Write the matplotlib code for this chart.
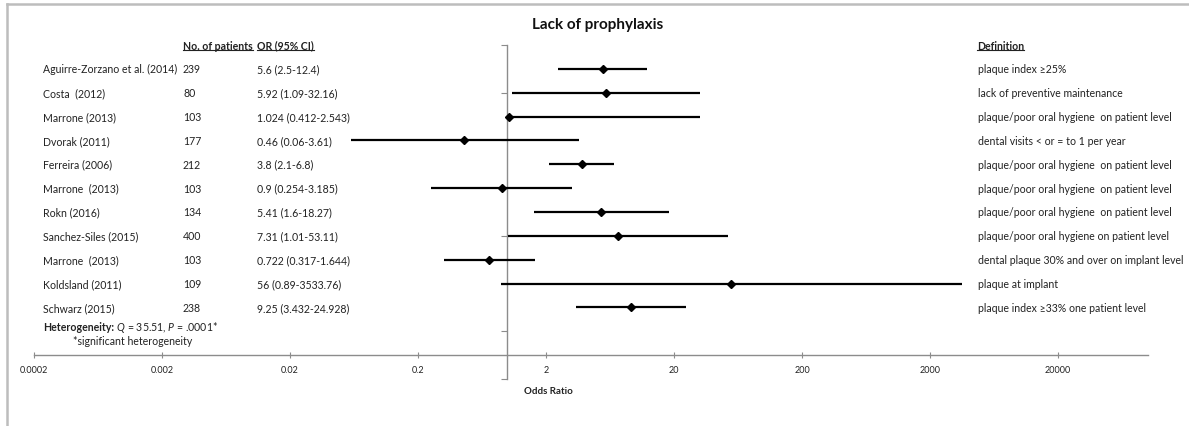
import numpy as np
import matplotlib
matplotlib.use("Agg")
import matplotlib.pyplot as plt
from matplotlib.lines import Line2D
from matplotlib.transforms import blended_transform_factory

plt.rcParams["font.family"] = ["Lato", "DejaVu Sans"]
plt.rcParams["mathtext.fontset"] = "custom"
plt.rcParams["mathtext.rm"] = "Lato"
plt.rcParams["mathtext.it"] = "Lato:italic"
plt.rcParams["mathtext.bf"] = "Lato:bold"

# data
studies = ["Aguirre-Zorzano et al. (2014)", "Costa  (2012)", "Marrone (2013)", "Dvorak (2011)",
           "Ferreira (2006)", "Marrone  (2013)", "Rokn (2016)", "Sanchez-Siles (2015)",
           "Marrone  (2013)", "Koldsland (2011)", "Schwarz (2015)"]
patients = [239, 80, 103, 177, 212, 103, 134, 400, 103, 109, 238]
odds = [5.6, 5.92, 1.024, 0.46, 3.8, 0.9, 5.41, 7.31, 0.722, 56, 9.25]
# interval ends as drawn in the picture (row 3 bar is drawn from 1.024 out to ~32)
ci_low = [2.5, 1.09, 1.024, 0.06, 2.1, 0.254, 1.6, 1.01, 0.317, 0.89, 3.432]
ci_high = [12.4, 32.16, 32.16, 3.61, 6.8, 3.185, 18.27, 53.11, 1.644, 3533.76, 24.928]
or_labels = ["5.6 (2.5-12.4)", "5.92 (1.09-32.16)", "1.024 (0.412-2.543)", "0.46 (0.06-3.61)",
             "3.8 (2.1-6.8)", "0.9 (0.254-3.185)", "5.41 (1.6-18.27)", "7.31 (1.01-53.11)",
             "0.722 (0.317-1.644)", "56 (0.89-3533.76)", "9.25 (3.432-24.928)"]
definitions = ["plaque index \u226525%", "lack of preventive maintenance",
               "plaque/poor oral hygiene  on patient level", "dental visits < or = to 1 per year",
               "plaque/poor oral hygiene  on patient level", "plaque/poor oral hygiene  on patient level",
               "plaque/poor oral hygiene  on patient level", "plaque/poor oral hygiene on patient level",
               "dental plaque 30% and over on implant level", "plaque at implant",
               "plaque index \u226533% one patient level"]
x_ticks = [0.0002, 0.002, 0.02, 0.2, 2, 20, 200, 2000, 20000]
x_tick_labels = ["0.0002", "0.002", "0.02", "0.2", "2", "20", "200", "2000", "20000"]

W, H = 1189, 427
fig = plt.figure(figsize=(W / 100, H / 100), dpi=100)
ax = fig.add_axes([34 / W, 1 - 380 / H, 1113.5 / W, 334 / H])

rows = np.arange(1, len(studies) + 1)
ax.hlines(rows, ci_low, ci_high, color="black", lw=1.6, zorder=3)
ax.plot(odds, rows, "D", color="black", ms=4.5, zorder=4)

ax.set_xscale("log")
ax.set_xlim(0.0002, 100000)
ax.set_ylim(14, 0)
ax.set_xticks(x_ticks)
ax.set_xticklabels(x_tick_labels)
ax.xaxis.set_minor_locator(matplotlib.ticker.NullLocator())
ax.set_yticks(np.arange(0, 15, 2))
ax.set_yticklabels([])
for s in ["top", "right"]:
    ax.spines[s].set_visible(False)
ax.spines["bottom"].set_position(("data", 13))
ax.spines["left"].set_position(("data", 1))
for s in ["bottom", "left"]:
    ax.spines[s].set_color("#8c8c8c")
    ax.spines[s].set_linewidth(1.0)
ax.tick_params(axis="x", direction="inout", length=4, color="#8c8c8c", labelsize=6.5, pad=5,
               labelcolor="#222222")
ax.tick_params(axis="y", direction="out", length=4, color="#8c8c8c")
ax.patch.set_visible(False)

fig.text(548 / W, 1 - 392 / H, "Odds Ratio", ha="center", va="center", fontsize=7,
         fontweight="bold", color="#222222")
fig.text(598 / W, 1 - 25 / H, "Lack of prophylaxis", ha="center", va="center", fontsize=11,
         fontweight="bold", color="#111111")

tr = blended_transform_factory(fig.transFigure, ax.transData)
fs = 7.6
tc = "#222222"
for i, r in enumerate(rows):
    ax.text(43 / W, r, studies[i], transform=tr, va="center", fontsize=fs, color=tc)
    ax.text(183 / W, r, str(patients[i]), transform=tr, va="center", fontsize=fs, color=tc)
    ax.text(257 / W, r, or_labels[i], transform=tr, va="center", fontsize=fs, color=tc)
    ax.text(978 / W, r, definitions[i], transform=tr, va="center", fontsize=fs, color=tc)

headers = [ax.text(183 / W, 0, "No. of patients", transform=tr, va="center", fontsize=fs,
                   fontweight="bold", color=tc),
           ax.text(257 / W, 0, "OR (95% CI)", transform=tr, va="center", fontsize=fs,
                   fontweight="bold", color=tc),
           ax.text(977 / W, 0, "Definition", transform=tr, va="center", fontsize=fs,
                   fontweight="bold", color=tc)]

het_bold = ax.text(43 / W, 11.78, "Heterogeneity:", transform=tr, va="center", fontsize=fs,
                   fontweight="bold", color=tc)
ax.text(73 / W, 12.38, "*significant heterogeneity", transform=tr, va="center", fontsize=fs,
        color=tc)

fig.canvas.draw()
renderer = fig.canvas.get_renderer()
inv = fig.transFigure.inverted()
for t in headers:
    bb = t.get_window_extent(renderer)
    (x0, y0), (x1, _) = inv.transform([(bb.x0, bb.y0 + 1), (bb.x1, bb.y0 + 1)])
    fig.add_artist(Line2D([x0, x1], [y0, y0], color=tc, lw=0.8))
bb = het_bold.get_window_extent(renderer)
x_after = inv.transform((bb.x1, bb.y0))[0]
ax.text(x_after, 11.78, " $Q$ = 35.51, $P$ = .0001*", transform=tr, va="center",
        fontsize=fs, color=tc)

# chart border (top and left edges visible)
fig.add_artist(Line2D([7 / W, 1], [1 - 5 / H, 1 - 5 / H], color="#bdbdbd", lw=1.8))
fig.add_artist(Line2D([7 / W, 7 / W], [0, 1 - 5 / H], color="#bdbdbd", lw=1.8))

fig.savefig("out.png", dpi=100, facecolor="white")
